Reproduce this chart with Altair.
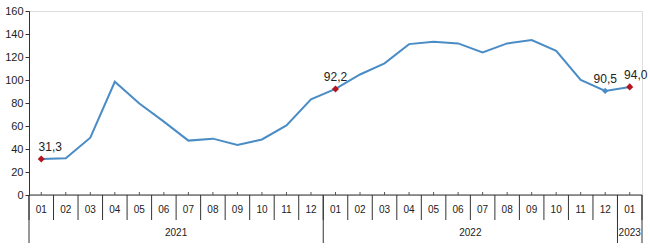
import altair as alt
import pandas as pd

months = ["01","02","03","04","05","06","07","08","09","10","11","12",
          "01","02","03","04","05","06","07","08","09","10","11","12",
          "01"]
years = ["2021"] * 12 + ["2022"] * 12 + ["2023"]
values = [31.3, 32.0, 49.8, 98.5, 79.5, 63.8, 47.3, 49.0, 43.5, 48.3, 60.5, 83.2,
          92.2, 104.8, 114.5, 131.2, 133.3, 131.8, 124.0, 131.8, 134.8, 125.3, 100.0, 90.5,
          94.0]
y_ticks = [0, 20, 40, 60, 80, 100, 120, 140, 160]
red_marks = [0, 12, 24]
blue_marks = [23]
labels = {0: "31,3", 12: "92,2", 23: "90,5", 24: "94,0"}

df = pd.DataFrame({"i": list(range(len(values))), "m": months, "yr": years, "v": values})
df["lab"] = [labels.get(i, "") for i in df["i"]]

bounds = pd.DataFrame({"b": [k - 0.5 for k in range(len(values) + 1)]})
yg = df.groupby("yr")["i"].agg(["min", "max"]).reset_index()
yg["mid"] = (yg["min"] + yg["max"]) / 2
ysep = sorted(set([r - 0.5 for r in yg["min"]] + [r + 0.5 for r in yg["max"]]))
ysep_df = pd.DataFrame({"b": ysep})

FONT = "Liberation Sans"
xs = alt.Scale(domain=[-0.5, len(values) - 0.5], nice=False, zero=False)
ys = alt.Scale(domain=[y_ticks[0], y_ticks[-1]], nice=False)
AX = alt.Axis(values=y_ticks, grid=False, domainColor="#333333", title=None,
              tickColor="#333333", tickSize=4, labelFont=FONT, labelFontSize=11,
              labelColor="#222222", labelPadding=2, domainWidth=1,
              labelOverlap=False, labelFlush=False)
X = alt.X("i:Q", scale=xs, axis=None)
Y = alt.Y("v:Q", scale=ys, axis=AX, title=None)

base = alt.Chart(df)

line = base.mark_line(color="#4A8CC6", strokeWidth=2).encode(x=X, y=Y)

red = base.transform_filter(alt.FieldOneOfPredicate(field="i", oneOf=red_marks)).mark_point(
    shape="diamond", filled=True, color="#B5121B", size=50, opacity=1).encode(x=X, y=Y)
blue = base.transform_filter(alt.FieldOneOfPredicate(field="i", oneOf=blue_marks)).mark_point(
    shape="diamond", filled=True, color="#4A8CC6", size=40, opacity=1).encode(x=X, y=Y)

txt_c = base.transform_filter("datum.lab != '' && datum.i != 0 && datum.i != 24").mark_text(
    font=FONT, fontSize=12, color="#222222", dy=-12).encode(x=X, y=Y, text="lab:N")
txt_r1 = base.transform_filter("datum.i == 0").mark_text(
    font=FONT, fontSize=12, color="#222222", dy=-12, dx=9).encode(x=X, y=Y, text="lab:N")
txt_r2 = base.transform_filter("datum.i == 24").mark_text(
    font=FONT, fontSize=12, color="#222222", dy=-12, dx=6).encode(x=X, y=Y, text="lab:N")

xaxis = alt.Chart(pd.DataFrame({"a": [-0.5], "b2": [len(values) - 0.5]})).mark_rule(
    color="#333333", strokeWidth=1).encode(x=alt.X("a:Q", scale=xs, axis=None), x2="b2:Q", y=alt.value(184))

minor = base.mark_rule(color="#555555").encode(x=X, y=alt.value(181), y2=alt.value(184))

mticks = alt.Chart(bounds).mark_rule(color="#333333").encode(
    x=alt.X("b:Q", scale=xs, axis=None), y=alt.value(184), y2=alt.value(209))
yticks = alt.Chart(ysep_df).mark_rule(color="#333333").encode(
    x=alt.X("b:Q", scale=xs, axis=None), y=alt.value(184), y2=alt.value(232))

mlab = base.mark_text(font=FONT, fontSize=10, color="#222222").encode(
    x=X, y=alt.value(199), text="m:N")
ylab = alt.Chart(yg).mark_text(font=FONT, fontSize=10, color="#222222").encode(
    x=alt.X("mid:Q", scale=xs, axis=None), y=alt.value(222), text="yr:N")

chart = alt.layer(line, xaxis, minor, mticks, yticks, mlab, ylab, blue, red,
                  txt_c, txt_r1, txt_r2).properties(
    width=613, height=184,
    autosize=alt.AutoSizeParams(type="none"),
    padding={"left": 29, "top": 11, "right": 8, "bottom": 53},
).configure_view(stroke=None).configure(background="white")

chart.save("out.html", embed_options={"renderer": "svg", "actions": False})
